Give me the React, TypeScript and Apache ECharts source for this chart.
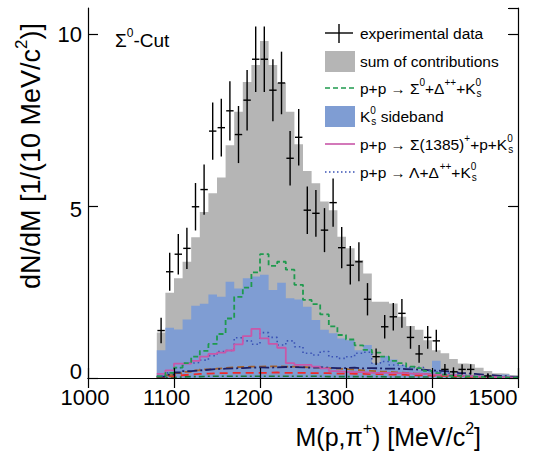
import React, { useEffect, useRef } from "react";
import * as echarts from "echarts";

// Bin edges of the 10 MeV/c^2 histogram (lower edges + final upper edge)
const binEdges = [
  1080, 1090, 1100, 1110, 1120, 1130, 1140, 1150, 1160, 1170,
  1180, 1190, 1200, 1210, 1220, 1230, 1240, 1250, 1260, 1270,
  1280, 1290, 1300, 1310, 1320, 1330, 1340, 1350, 1360, 1370,
  1380, 1390, 1400, 1410, 1420, 1430, 1440, 1450, 1460, 1470,
  1480, 1490, 1500,
];
const binCenters = [
  1085, 1095, 1105, 1115, 1125, 1135, 1145, 1155, 1165, 1175,
  1185, 1195, 1205, 1215, 1225, 1235, 1245, 1255, 1265, 1275,
  1285, 1295, 1305, 1315, 1325, 1335, 1345, 1355, 1365, 1375,
  1385, 1395, 1405, 1415, 1425, 1435, 1445, 1455, 1465, 1475,
  1485, 1495,
];

// experimental data
const expData = [
  1.38, 3.09, 3.6, 3.77, 4.98, 5.48, 7.18, 7.28, 7.77, 7.08,
  8.08, 9.27, 9.27, 8.37, 8.58, 6.39, 7.0, 4.88, 4.79, 4.3,
  5.1, 3.79, 3.28, 3.38, 2.29, 0.62, 1.49, 1.78, 1.88, 1.18,
  0.7, 1.18, 1.08, 0.25, 0.18, 0.25, 0.25, null, 0.06, null,
  null, null,
];
const expErr = [
  0.37, 0.55, 0.59, 0.6, 0.69, 0.73, 0.83, 0.84, 0.86, 0.83,
  0.88, 0.95, 0.95, 0.9, 0.91, 0.79, 0.82, 0.69, 0.68, 0.64,
  0.7, 0.6, 0.56, 0.57, 0.47, 0.24, 0.34, 0.4, 0.42, 0.33,
  0.26, 0.33, 0.32, 0.16, 0.13, 0.15, 0.15, null, 0.08, null,
  null, null,
];

// sum of contributions
const sumContrib = [
  1.32, 2.48, 2.9, 3.38, 4.09, 4.83, 5.37, 5.83, 6.77, 7.74,
  8.61, 9.1, 9.8, 9.1, 8.58, 7.74, 6.8, 6.02, 5.66, 5.13,
  4.88, 4.11, 3.77, 3.43, 3.04, 2.22, 2.22, 2.17, 1.78, 1.51,
  1.4, 1.1, 0.81, 0.72, 0.55, 0.42, 0.4, 0.3, 0.2, 0.14,
  0.12, 0.08,
];
// K0s sideband
const sideband = [
  0.81, 1.46, 1.41, 1.7, 2.1, 2.16, 2.43, 2.36, 2.8, 2.6,
  2.9, 2.95, 3.0, 2.56, 2.77, 2.32, 2.28, 2.07, 1.69, 1.4,
  1.3, 1.15, 1.1, 0.81, 0.96, 0.43, 0.64, 0.54, 0.38, 0.31,
  0.25, 0.22, 0.5, 0.21, 0.12, 0.1, 0.08, 0.06, 0.05, 0.04,
  0.1, 0.03,
];
// p+p -> Sigma0 + Delta++ + K0s
const sigma0Delta = [
  0.05, 0.15, 0.3, 0.43, 0.62, 0.79, 0.99, 1.28, 1.73, 2.36,
  2.63, 3.07, 3.6, 3.26, 3.38, 3.15, 2.71, 2.27, 2.15, 1.85,
  1.5, 1.25, 1.12, 0.95, 0.82, 0.74, 0.62, 0.5, 0.43, 0.33,
  0.29, 0.21, 0.14, 0.1, 0.07, 0.05, 0.04, 0.03, 0.02, 0.02,
  0.01, 0.01,
];
// p+p -> Sigma(1385)+ + p + K0s
const sigma1385 = [
  0.12, 0.22, 0.42, 0.42, 0.5, 0.62, 0.7, 0.74, 0.8, 0.98,
  1.22, 1.43, 1.15, 0.99, 0.88, 0.43, 0.38, 0.38, 0.33, 0.28,
  0.2, 0.18, 0.17, 0.17, 0.15, 0.15, 0.15, 0.14, 0.14, 0.12,
  0.12, 0.1, 0.1, 0.09, 0.08, 0.06, 0.05, 0.04, 0.03, 0.02,
  0.02, 0.01,
];
// p+p -> Lambda + Delta++ + K0s
const lambdaDelta = [
  0.05, 0.15, 0.3, 0.43, 0.45, 0.52, 0.65, 0.77, 0.8, 1.17,
  1.08, 0.98, 1.32, 1.18, 0.96, 1.08, 0.91, 0.72, 0.67, 0.77,
  0.62, 0.57, 0.62, 0.72, 0.75, 0.43, 0.48, 0.38, 0.36, 0.31,
  0.31, 0.22, 0.18, 0.14, 0.12, 0.08, 0.06, 0.05, 0.04, 0.03,
  0.02, 0.02,
];
// further (unlabelled) contributions
const extraNavy = [
  0.04, 0.1, 0.16, 0.2, 0.22, 0.24, 0.26, 0.27, 0.28, 0.29,
  0.3, 0.31, 0.3, 0.31, 0.32, 0.32, 0.31, 0.3, 0.31, 0.3,
  0.29, 0.29, 0.3, 0.28, 0.29, 0.28, 0.27, 0.27, 0.26, 0.25,
  0.24, 0.22, 0.21, 0.19, 0.17, 0.14, 0.12, 0.1, 0.08, 0.06,
  0.04, 0.03,
];
const extraBrown = [
  0.03, 0.08, 0.14, 0.18, 0.22, 0.25, 0.27, 0.29, 0.31, 0.32,
  0.33, 0.33, 0.34, 0.34, 0.33, 0.33, 0.32, 0.31, 0.3, 0.29,
  0.27, 0.26, 0.24, 0.22, 0.21, 0.19, 0.18, 0.16, 0.15, 0.13,
  0.12, 0.1, 0.09, 0.08, 0.06, 0.05, 0.04, 0.03, 0.02, 0.02,
  0.01, 0.01,
];
const extraRed = [
  0.02, 0.05, 0.08, 0.1, 0.12, 0.13, 0.14, 0.14, 0.15, 0.15,
  0.15, 0.15, 0.15, 0.16, 0.15, 0.15, 0.15, 0.14, 0.14, 0.14,
  0.13, 0.13, 0.12, 0.12, 0.11, 0.11, 0.1, 0.1, 0.09, 0.08,
  0.08, 0.07, 0.06, 0.06, 0.05, 0.04, 0.03, 0.03, 0.02, 0.02,
  0.01, 0.01,
];
const extraGreen = [
  0.01, 0.02, 0.03, 0.04, 0.04, 0.05, 0.05, 0.05, 0.05, 0.05,
  0.05, 0.05, 0.05, 0.05, 0.05, 0.05, 0.05, 0.05, 0.05, 0.04,
  0.04, 0.04, 0.04, 0.04, 0.04, 0.04, 0.03, 0.03, 0.03, 0.03,
  0.03, 0.03, 0.02, 0.02, 0.02, 0.02, 0.02, 0.01, 0.01, 0.01,
  0.01, 0.01,
];

const yTicks = [0, 5, 10];

const FONT = "Liberation Sans, Arial, Helvetica, sans-serif";
const C_GREY = "#b5b5b5";
const C_BLUE = "#7f9dd3";
const C_GREEN = "#1f9a4e";
const C_MAGENTA = "#c957a8";
const C_DOT = "#3a52b5";

function stepLine(vals: number[]) {
  const d: number[][] = [];
  for (let i = 0; i < vals.length; i++) d.push([binEdges[i], vals[i]]);
  d.push([binEdges[vals.length], vals[vals.length - 1]]);
  return d;
}
function stepFill(vals: number[]) {
  const d: number[][] = [];
  for (let i = 0; i < vals.length; i++) d.push([binEdges[i], vals[i]]);
  d.push([binEdges[vals.length], 0]);
  return d;
}

function richFor(fs: number) {
  const s = Math.round(fs * 0.62);
  return {
    t: { fontSize: fs, lineHeight: Math.round(fs * 1.35), fontFamily: FONT, fill: "#000" },
    a: { fontSize: Math.round(fs * 0.95), lineHeight: Math.round(fs * 1.35), fontFamily: FONT, fill: "#000" },
    u: { fontSize: s, lineHeight: s, verticalAlign: "top", fontFamily: FONT, fill: "#000" },
    uz: { fontSize: s, lineHeight: s, verticalAlign: "top", fontFamily: FONT, fill: "#000", width: 1 },
    d: { fontSize: s, lineHeight: s, verticalAlign: "bottom", fontFamily: FONT, fill: "#000" },
  };
}

function richText(x: number, y: number, text: string, fs: number, extra: any = {}) {
  return {
    type: "text",
    x,
    y,
    z: 30,
    ...extra,
    style: {
      text,
      rich: richFor(fs),
      fontSize: fs,
      fontFamily: FONT,
      fill: "#000",
      verticalAlign: "middle",
      align: "left",
      ...(extra.style || {}),
    },
  };
}

export default function App() {
  const ref = useRef<HTMLDivElement>(null);
  useEffect(() => {
    if (!ref.current) return;
    const chart = echarts.init(ref.current, undefined, { renderer: "svg" });

    const yRich: Record<string, any> = {
      y0: { fontSize: 22, fontFamily: FONT, color: "#000", padding: [0, 0, 14, 0] },
      y5: { fontSize: 22, fontFamily: FONT, color: "#000", padding: [6, 0, 0, 0] },
      y10: { fontSize: 22, fontFamily: FONT, color: "#000", padding: [0, 0, 0, 0] },
    };

    const expPoints: number[][] = [];
    binCenters.forEach((c, i) => {
      if (expData[i] != null) expPoints.push([c, expData[i] as number, expErr[i] as number]);
    });

    const lineSeries = (name: string, vals: number[], color: string, type: any, width: number, z: number) => ({
      name,
      type: "line",
      step: "end",
      data: stepLine(vals),
      symbol: "none",
      silent: true,
      z,
      lineStyle: { color, width, type },
    });

    const axisBase = {
      axisLine: { show: true, lineStyle: { color: "#000", width: 1.2 } },
      axisTick: { show: true, inside: true, length: 10, lineStyle: { color: "#000", width: 1.2 } },
      splitLine: { show: false },
      z: 20,
    };

    const lx = 325;
    const tx = 360;
    const rows = [33, 61, 88, 116, 144, 172];
    const LFS = 15.5;

    const option: any = {
      animation: false,
      backgroundColor: "#fff",
      grid: [
        { left: 88, right: 30, top: 8, bottom: 78, containLabel: false },
        // label grid: the printed mass labels sit slightly left of the ticks
        { left: 85, right: 55, top: 8, bottom: 78, containLabel: false },
      ],
      xAxis: [
        { type: "value", gridIndex: 0, min: 1000, max: 1500, interval: 100, position: "bottom", axisLabel: { show: false }, ...axisBase },
        { type: "value", gridIndex: 0, min: 1000, max: 1500, interval: 100, position: "top", axisLabel: { show: false }, ...axisBase },
        {
          type: "value",
          gridIndex: 1,
          min: 1000,
          max: 1500,
          interval: 100,
          position: "bottom",
          axisLine: { show: false },
          axisTick: { show: false },
          splitLine: { show: false },
          axisLabel: {
            show: true,
            margin: 8,
            fontSize: 22,
            fontFamily: FONT,
            color: "#000",
            formatter: (v: number) => String(v),
          },
        },
      ],
      yAxis: [
        {
          type: "value",
          gridIndex: 0,
          min: 0,
          max: 10.76,
          interval: 5,
          position: "left",
          ...axisBase,
          axisLabel: {
            margin: 6,
            showMaxLabel: false,
            formatter: (v: number) => (yTicks.indexOf(v) >= 0 ? `{y${v}|${v}}` : ""),
            rich: yRich,
          },
        },
        { type: "value", gridIndex: 0, min: 0, max: 10.76, interval: 5, position: "right", axisLabel: { show: false }, ...axisBase },
        { type: "value", gridIndex: 1, min: 0, max: 10.76, show: false },
      ],
      series: [
        {
          name: "sum of contributions",
          type: "line",
          step: "end",
          data: stepFill(sumContrib),
          symbol: "none",
          silent: true,
          z: 1,
          lineStyle: { width: 0, color: C_GREY },
          areaStyle: { color: C_GREY, opacity: 1 },
        },
        {
          name: "K0s sideband",
          type: "line",
          step: "end",
          data: stepFill(sideband),
          symbol: "none",
          silent: true,
          z: 2,
          lineStyle: { width: 0, color: C_BLUE },
          areaStyle: { color: C_BLUE, opacity: 1 },
        },
        lineSeries("extra green", extraGreen, "#1d7a3a", [6, 3, 2, 3], 1.6, 3),
        lineSeries("extra red", extraRed, "#ee2a2a", [8, 5], 1.8, 3),
        lineSeries("extra brown", extraBrown, "#a8642c", [7, 4], 1.8, 3),
        lineSeries("extra navy", extraNavy, "#1c1f66", [10, 3, 2, 3], 1.8, 3),
        lineSeries("Lambda", lambdaDelta, C_DOT, [1.5, 3], 1.6, 4),
        lineSeries("Sigma1385", sigma1385, C_MAGENTA, "solid", 1.8, 5),
        lineSeries("Sigma0", sigma0Delta, C_GREEN, [5, 3], 1.8, 6),
        {
          name: "experimental data",
          type: "custom",
          data: expPoints,
          encode: { x: 0, y: 1 },
          silent: true,
          z: 10,
          renderItem: (params: any, api: any) => {
            const x = api.value(0);
            const y = api.value(1);
            const e = api.value(2);
            const pL = api.coord([x - 4.3, y]);
            const pR = api.coord([x + 4.3, y]);
            const pT = api.coord([x, y + e]);
            const pB = api.coord([x, Math.max(0, y - e)]);
            return {
              type: "group",
              children: [
                { type: "line", shape: { x1: pL[0], y1: pL[1], x2: pR[0], y2: pR[1] }, style: { stroke: "#000", lineWidth: 1.4 } },
                { type: "line", shape: { x1: pT[0], y1: pT[1], x2: pB[0], y2: pB[1] }, style: { stroke: "#000", lineWidth: 1.4 } },
              ],
            };
          },
        },
      ],
      graphic: [
        richText(115, 40, "{t|Σ}{u|0}{t|-Cut}", 19),
        richText(481, 437, "{t|M(p,π}{u|+}{t|) [MeV/c}{u|2}{t|]}", 25, { style: { align: "right" } }),
        richText(31, 156, "{t|dN/dM [1/(10 MeV/c}{u|2}{t|)]}", 27, { rotation: Math.PI / 2, style: { align: "center" } }),

        // legend
        { type: "line", shape: { x1: lx, y1: rows[0], x2: lx + 28, y2: rows[0] }, style: { stroke: "#000", lineWidth: 1.4 }, z: 30 },
        { type: "line", shape: { x1: lx + 14, y1: rows[0] - 9, x2: lx + 14, y2: rows[0] + 10 }, style: { stroke: "#000", lineWidth: 1.4 }, z: 30 },
        richText(tx, rows[0], "{t|experimental data}", LFS),

        { type: "rect", shape: { x: lx, y: rows[1] - 10, width: 30, height: 21 }, style: { fill: C_GREY }, z: 30 },
        richText(tx, rows[1], "{t|sum of contributions}", LFS),

        { type: "line", shape: { x1: lx, y1: rows[2], x2: lx + 30, y2: rows[2] }, style: { stroke: C_GREEN, lineWidth: 1.6, lineDash: [5, 3] }, z: 30 },
        richText(tx, rows[2], "{t|p+p }{a|→}{t| Σ}{u|0}{t|+Δ}{u|++}{t|+K}{uz|0}{d|s}", LFS),

        { type: "rect", shape: { x: lx, y: rows[3] - 10, width: 30, height: 21 }, style: { fill: C_BLUE }, z: 30 },
        richText(tx, rows[3], "{t|K}{uz|0}{d|s}{t| sideband}", LFS),

        { type: "line", shape: { x1: lx, y1: rows[4], x2: lx + 30, y2: rows[4] }, style: { stroke: C_MAGENTA, lineWidth: 1.6 }, z: 30 },
        richText(tx, rows[4], "{t|p+p }{a|→}{t| Σ(1385)}{u|+}{t|+p+K}{uz|0}{d|s}", LFS),

        { type: "line", shape: { x1: lx, y1: rows[5], x2: lx + 30, y2: rows[5] }, style: { stroke: C_DOT, lineWidth: 1.5, lineDash: [1.5, 2.5] }, z: 30 },
        richText(tx, rows[5], "{t|p+p }{a|→}{t| Λ+Δ}{u|++}{t|+K}{uz|0}{d|s}", LFS),
      ],
    };

    chart.setOption(option);
    return () => chart.dispose();
  }, []);

  return (
    <div
      ref={ref}
      style={{ position: "fixed", left: 0, top: 0, width: 548, height: 456, background: "#fff" }}
    />
  );
}
